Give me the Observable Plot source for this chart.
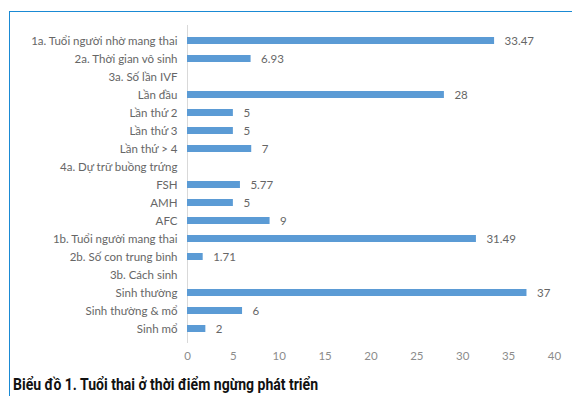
<!DOCTYPE html>
<html>
<head>
<meta charset="utf-8">
<script src="https://cdn.jsdelivr.net/npm/d3@7"></script>
<script src="https://cdn.jsdelivr.net/npm/@observablehq/plot@0.6"></script>
<style>
  html, body { margin: 0; padding: 0; background: #fff; }
  #wrap { position: relative; width: 572px; height: 400px; overflow: hidden; }
  #bt { position: absolute; left: 9px; top: 11px; width: 563px; height: 1px; background: #1a8ad4; }
  #bl { position: absolute; left: 9px; top: 11px; width: 1px; height: 385px; background: #1a8ad4; }
  #chart { position: absolute; left: 0; top: 0; }
  #caption { position: absolute; left: 13px; top: 374px; font-family: Roboto, "Liberation Sans", sans-serif; font-weight: bold; font-size: 17px; line-height: 20px; color: #111; white-space: nowrap; transform-origin: 0 0; }
</style>
</head>
<body>
<div id="wrap">
  <div id="bt"></div>
  <div id="bl"></div>
  <div id="chart"></div>
  <div id="caption">Biểu đồ 1. Tuổi thai ở thời điểm ngừng phát triển</div>
</div>
<script>
const categories = [
  "1a. Tuổi người nhờ mang thai",
  "2a. Thời gian vô sinh",
  "3a. Số lần IVF",
  "Lần đầu",
  "Lần thứ 2",
  "Lần thứ 3",
  "Lần thứ > 4",
  "4a. Dự trữ buồng trứng",
  "FSH",
  "AMH",
  "AFC",
  "1b. Tuổi người mang thai",
  "2b. Số con trung bình",
  "3b. Cách sinh",
  "Sinh thường",
  "Sinh thường & mổ",
  "Sinh mổ"
];
const values = [33.47, 6.93, null, 28, 5, 5, 7, null, 5.77, 5, 9, 31.49, 1.71, null, 37, 6, 2];
const xTicks = [0, 5, 10, 15, 20, 25, 30, 35, 40];

const data = categories.map((c, i) => ({ category: c, value: values[i] }));
const bars = data.filter(d => d.value != null);

const chart = Plot.plot({
  width: 572,
  height: 370,
  marginLeft: 187,
  marginRight: 18,
  marginTop: 25,
  marginBottom: 27,
  style: { fontFamily: "Lato, 'Open Sans', sans-serif", fontSize: "11.5px", color: "#595959", background: "transparent" },
  x: { domain: [0, 40], ticks: xTicks, tickSize: 0, tickPadding: 8, label: null },
  y: { domain: categories, paddingInner: 0.62, paddingOuter: 0.5, align: 0.5, tickSize: 0, tickPadding: 10, label: null },
  marks: [
    Plot.axisX({ ticks: xTicks, tickSize: 0, tickPadding: 8, color: "#8c8c8c", label: null }),
    Plot.axisY({ tickSize: 0, tickPadding: 10, color: "#666666", label: null }),
    Plot.ruleX([0], { stroke: "#d9d9d9" }),
    Plot.barX(bars, { x: "value", y: "category", fill: "#5b9bd5", insetTop: 0, insetBottom: 0 }),
    Plot.text(bars, { x: "value", y: "category", text: d => String(d.value), textAnchor: "start", dx: 10, fill: "#666666" })
  ]
});
document.getElementById("chart").appendChild(chart);

// compress caption horizontally to mimic the condensed typeface
const cap = document.getElementById("caption");
const w = cap.getBoundingClientRect().width;
cap.style.transform = `scaleX(${305 / w})`;
</script>
</body>
</html>
